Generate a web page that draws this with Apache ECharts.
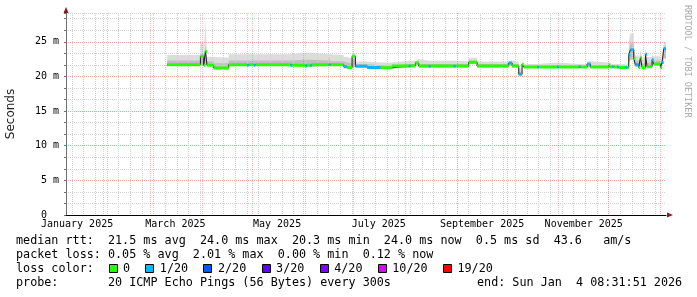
<!DOCTYPE html>
<html><head><meta charset="utf-8">
<script src="https://cdn.jsdelivr.net/npm/echarts@6/dist/echarts.min.js"></script>
<style>html,body{margin:0;padding:0;background:#fff}#c{width:697px;height:297px}</style>
</head><body><div id="c"></div>
<script>
// ---------------- data ----------------
const segStart = ['2025-03-11','2025-03-31','2025-04-02','2025-04-03','2025-04-04','2025-04-08','2025-04-17','2025-04-28','2025-04-29','2025-05-02',
 '2025-05-03','2025-05-24','2025-05-25','2025-06-02','2025-06-03','2025-06-05','2025-06-06','2025-06-16','2025-06-17','2025-06-25',
 '2025-06-27','2025-06-30','2025-07-02','2025-07-09','2025-07-17','2025-07-24','2025-08-03','2025-08-04','2025-08-07','2025-08-09',
 '2025-08-15','2025-08-16','2025-08-30','2025-08-31','2025-09-08','2025-09-13','2025-10-02','2025-10-04','2025-10-08','2025-10-10',
 '2025-10-11','2025-10-19','2025-10-20','2025-10-31','2025-11-01','2025-11-13','2025-11-14','2025-11-18','2025-11-20','2025-12-01',
 '2025-12-02','2025-12-03','2025-12-04','2025-12-06','2025-12-07','2025-12-11','2025-12-12','2025-12-13','2025-12-14','2025-12-16',
 '2025-12-17','2025-12-19','2025-12-20','2025-12-21','2025-12-23','2025-12-24','2025-12-27','2025-12-28','2026-01-01','2026-01-02',
 '2026-01-03'];
const medianMs = [21.7,22.9,21.6,23.6,21.6,21.2,21.7,21.6,21.7,21.6,
 21.7,21.6,21.6,21.5,21.6,21.6,21.7,21.7,21.7,21.4,
 21.3,22.9,21.45,21.3,21.25,21.5,21.5,21.55,21.95,21.5,
 21.45,21.5,21.45,21.5,22.05,21.5,21.95,21.5,20.3,21.75,
 21.35,21.35,21.35,21.35,21.35,21.4,21.35,21.8,21.35,21.65,
 21.35,21.4,21.35,21.35,21.3,21.3,21.3,23.1,23.85,22.6,
 21.7,21.3,22.7,21.3,23.2,21.4,22.4,21.8,21.3,22.0,
 24.0];
const lossIdx = [0,0,0,0,0,0,0,1,0,1,
 0,1,0,1,0,1,0,1,0,1,
 0,0,1,1,0,0,1,0,0,0,
 1,0,1,0,0,0,1,0,1,0,
 0,1,0,1,0,1,0,1,0,0,
 0,1,0,1,0,1,0,1,1,0,
 1,0,0,0,1,0,1,0,0,1,
 1];
const smokeLo = [21.5,21.6,21.5,21.6,21.5,21.0,21.5,21.5,21.5,21.5,
 21.5,21.5,21.4,21.4,21.4,21.4,21.5,21.5,21.5,21.3,
 21.2,21.4,21.3,21.1,21.1,21.3,21.3,21.3,21.7,21.3,
 21.3,21.3,21.3,21.3,21.8,21.3,21.7,21.3,20.2,21.5,
 21.2,21.2,21.2,21.2,21.2,21.2,21.2,21.4,21.2,21.3,
 21.2,21.2,21.2,21.2,21.15,21.15,21.15,21.8,22.4,21.8,
 21.4,21.2,21.5,21.2,21.6,21.2,21.6,21.5,21.1,21.6,
 22.6];
const smokeMid = [22.3,23.2,22.2,24.4,22.2,21.9,22.3,22.3,22.3,22.3,
 22.3,22.4,22.4,22.4,22.4,22.3,22.3,22.8,22.2,22.0,
 21.9,22.6,21.8,21.6,21.6,21.8,21.8,21.8,22.2,21.8,
 21.8,21.8,21.8,21.8,22.3,21.8,22.1,21.8,20.7,21.9,
 21.55,21.55,21.6,21.6,21.55,21.55,21.55,21.9,21.6,21.7,
 21.55,21.55,21.55,21.55,21.5,21.5,21.5,23.5,24.8,23.6,
 22.3,21.8,23.0,21.9,23.4,22.0,22.6,22.3,21.6,22.4,
 24.3];
const smokeHi = [23.1,24.8,22.9,28.0,22.8,22.7,23.2,23.2,23.2,23.1,
 23.2,23.4,23.4,23.5,23.4,23.3,23.2,23.0,23.1,22.8,
 22.6,23.4,22.15,22.0,22.0,22.25,22.25,22.25,22.5,22.25,
 22.2,22.25,22.2,22.2,22.7,22.15,22.3,22.1,21.2,22.1,
 21.8,21.8,22.0,22.0,21.8,21.8,21.8,22.2,22.0,21.9,
 21.8,21.8,21.8,21.8,21.75,21.75,21.75,25.0,26.2,24.8,
 23.0,22.3,23.8,22.6,24.1,22.8,23.2,22.9,22.0,23.0,
 24.9];
const endStamp = [2026, 1, 4, 8, 31, 51];
const spanDays = 360;
const lossLabels = ['0','1/20','2/20','3/20','4/20','10/20','19/20'];
const lossColors = ['#26ff00','#00b8ff','#0059ff','#5e00ff','#7e00ff','#dd00ff','#ff0000'];
const xLabelDates = ['2025-01-16','2025-03-16','2025-05-16','2025-07-16','2025-09-16','2025-11-16'];
const xLabelTexts = ['January 2025','March 2025','May 2025','July 2025','September 2025','November 2025'];
const yTickValues = [0,5,10,15,20,25];
const yTickLabels = ['0  ','5 m','10 m','15 m','20 m','25 m'];
const statLine1 = 'median rtt:  21.5 ms avg  24.0 ms max  20.3 ms min  24.0 ms now  0.5 ms sd  43.6   am/s';
const statLine2 = 'packet loss: 0.05 % avg  2.01 % max  0.00 % min  0.12 % now';
const statLine3 = 'loss color:';
const statLine4 = 'probe:       20 ICMP Echo Pings (56 Bytes) every 300s';
const endText = 'end: Sun Jan  4 08:31:51 2026';
const watermark = 'RRDTOOL / TOBI OETIKER';

// ---------------- helpers ----------------
const DAY = 86400000;
const ts = s => { const p = s.split('-').map(Number); return Date.UTC(p[0], p[1]-1, p[2]); };
const END = Date.UTC(endStamp[0], endStamp[1]-1, endStamp[2], endStamp[3], endStamp[4], endStamp[5]);
const START = END - spanDays * DAY;
const segT = segStart.map(ts);
const segEnd = i => (i + 1 < segT.length ? segT[i+1] : END);
const last = segT.length - 1;
const stepPts = arr => segT.map((t, i) => [t, arr[i]]).concat([[END, arr[last]]]);
const xLabelTimes = xLabelDates.map(ts);

// grid positions (calendar)
const weekTimes = [];
for (let t = Date.UTC(2025, 0, 13); t < END; t += 7 * DAY) weekTimes.push(t);
const monthTimes = [];
for (let m = 1; m <= 12; m++) monthTimes.push(Date.UTC(2025, m, 1));

const YMAX = 29.15;
const mono = '"DejaVu Sans Mono", monospace';
const FS = 11.75;
const CW = FS * 0.602;
const GRID_Z = 3;
const minorGrid = { color: '#d2d2d2', width: 1, type: [1, 1] };
const majorGrid = { color: 'rgba(255,90,90,0.42)', width: 1, type: [1, 1] };

const lossSeries = lossColors.map((c, k) => {
  const d = [];
  segT.forEach((t, i) => {
    if (lossIdx[i] === k) { d.push([t, medianMs[i]], [segEnd(i), medianMs[i]], [segEnd(i), null]); }
  });
  return { name: lossLabels[k], type: 'line', data: d, symbol: 'none', connectNulls: false,
    lineStyle: { color: c, width: 3, cap: 'butt' }, z: 5, silent: true };
});

const smokeArea = (name, arr, color) => ({ name: name, type: 'line', step: 'end', data: stepPts(arr), symbol: 'none',
  lineStyle: { width: 0 }, areaStyle: { color: color, opacity: 1, origin: 'start' }, z: 2, silent: true });

// legend/stat graphics
const gfx = [];
const txt = (x, y, s) => ({ type: 'text', x: x, y: y, silent: true,
  style: { text: s, font: FS + 'px ' + mono, fill: '#000', align: 'left', verticalAlign: 'middle' } });
gfx.push(txt(16, 241, statLine1), txt(16, 255, statLine2), txt(16, 269, statLine3), txt(16, 283, statLine4), txt(477, 283, endText));
let bx = 108.5;
lossLabels.forEach((lab, k) => {
  gfx.push({ type: 'rect', silent: true, shape: { x: Math.round(bx) + 0.5, y: 264.5, width: 8, height: 8 },
    style: { fill: lossColors[k], stroke: '#000', lineWidth: 1 } });
  const lx = bx + 14.5;
  gfx.push(txt(lx, 269, lab));
  bx = lx + lab.length * CW + 15.3;
});
gfx.push({ type: 'text', x: 687.5, y: 5, rotation: -Math.PI / 2, silent: true,
  style: { text: watermark, font: '8.5px ' + mono, fill: '#a8a8a8', align: 'left', verticalAlign: 'middle' } });

const timeAxisBase = { type: 'value', min: START, max: END, position: 'bottom', offset: 0, scale: true, z: GRID_Z };
const valAxisBase = { type: 'value', min: 0, max: YMAX, position: 'left', offset: 0, z: GRID_Z };

const option = {
  animation: false,
  backgroundColor: '#fff',
  grid: { left: 66, right: 31, top: 13, bottom: 82, outerBoundsMode: 'none', containLabel: false },
  xAxis: [
    Object.assign({}, timeAxisBase, {
      axisLine: { show: true, onZero: false, lineStyle: { color: '#000', width: 1 } },
      axisTick: { show: false },
      splitLine: { show: false },
      axisLabel: { show: true, customValues: xLabelTimes, margin: 4, hideOverlap: false,
        fontFamily: mono, fontSize: 10, color: '#000',
        formatter: v => { const i = xLabelTimes.findIndex(t => Math.abs(t - v) < 3600000); return i < 0 ? '' : xLabelTexts[i]; } }
    }),
    Object.assign({}, timeAxisBase, {
      axisLine: { show: true, onZero: false, symbol: ['none', 'triangle'], symbolSize: [5, 6], symbolOffset: [0, 4],
        lineStyle: { color: '#8b1a1a', width: 0 } },
      axisTick: { show: false }, axisLabel: { show: false }, splitLine: { show: false }
    }),
    Object.assign({}, timeAxisBase, {
      axisLine: { show: false, onZero: false }, axisTick: { show: false, customValues: weekTimes }, axisLabel: { show: false },
      splitLine: { show: true, lineStyle: minorGrid }
    }),
    Object.assign({}, timeAxisBase, {
      axisLine: { show: false, onZero: false }, axisTick: { show: false, customValues: monthTimes }, axisLabel: { show: false },
      splitLine: { show: true, lineStyle: majorGrid }
    })
  ],
  yAxis: [
    Object.assign({}, valAxisBase, {
      interval: 5 / 3,
      axisLine: { show: true, onZero: false, lineStyle: { color: '#707070', width: 1 } },
      axisTick: { show: true, length: 2, lineStyle: { color: '#707070' } },
      axisLabel: { show: false },
      splitLine: { show: true, lineStyle: minorGrid }
    }),
    Object.assign({}, valAxisBase, {
      interval: 5,
      axisLine: { show: false, onZero: false }, axisTick: { show: false },
      axisLabel: { show: true, showMaxLabel: false, margin: 7, fontFamily: mono, fontSize: 10, color: '#000',
        formatter: v => { const i = yTickValues.findIndex(y => Math.abs(y - v) < 1e-6); return i < 0 ? '' : yTickLabels[i]; } },
      splitLine: { show: true, showMaxLine: false, lineStyle: majorGrid },
      name: 'Seconds', nameLocation: 'middle', nameGap: 49, nameRotate: 90,
      nameTextStyle: { fontFamily: '"DejaVu Sans", sans-serif', fontSize: 12, color: '#222' }
    }),
    Object.assign({}, valAxisBase, {
      axisLine: { show: true, onZero: false, symbol: ['none', 'triangle'], symbolSize: [5, 6], symbolOffset: [0, 3],
        lineStyle: { color: '#8b1a1a', width: 0 } },
      axisTick: { show: false }, axisLabel: { show: false }, splitLine: { show: false }
    })
  ],
  series: [
    smokeArea('smokeHi', smokeHi, '#dcdcdc'),
    smokeArea('smokeMid', smokeMid, '#bfbfbf'),
    smokeArea('smokeLo', smokeLo, '#ffffff'),
    { name: 'median', type: 'line', step: 'end', data: stepPts(medianMs), symbol: 'none',
      lineStyle: { color: '#202020', width: 1 }, z: 4, silent: true }
  ].concat(lossSeries),
  graphic: gfx
};

const chart = echarts.init(document.getElementById('c'), null, { renderer: 'canvas', width: 697, height: 297 });
chart.setOption(option);
</script>
</body></html>
